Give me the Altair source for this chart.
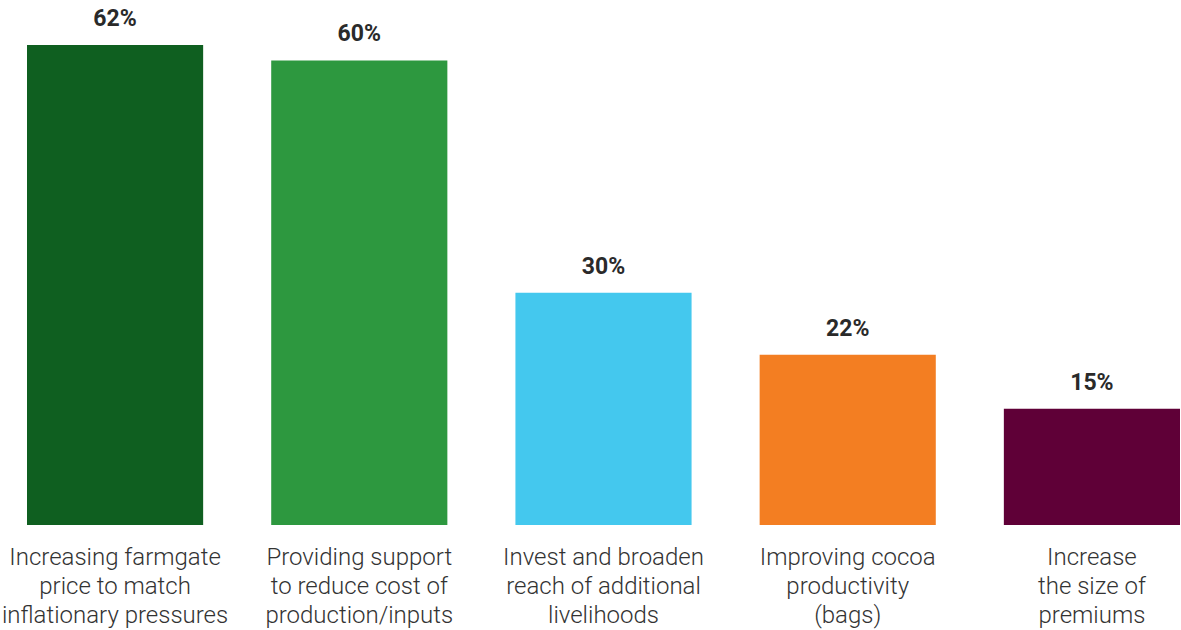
import altair as alt
import pandas as pd

categories = [
    "Increasing farmgate|price to match|inflationary pressures",
    "Providing support|to reduce cost of|production/inputs",
    "Invest and broaden|reach of additional|livelihoods",
    "Improving cocoa|productivity|(bags)",
    "Increase|the size of|premiums",
]
values = [62, 60, 30, 22, 15]
labels = ["62%", "60%", "30%", "22%", "15%"]
colors = ["#0f5f20", "#2d983f", "#44c8ee", "#f37e22", "#5f0037"]

df = pd.DataFrame({"cat": categories, "value": values, "label": labels, "color": colors})

x = alt.X(
    "cat:N",
    sort=categories,
    scale=alt.Scale(paddingInner=0.2787, paddingOuter=0),
    axis=alt.Axis(
        title=None,
        labelAngle=0,
        labelExpr="split(datum.label, '|')",
        labelFont="Roboto",
        labelFontWeight=300,
        labelFontSize=24,
        labelLineHeight=29,
        labelColor="#333333",
        labelPadding=20,
        labelBaseline="top",
        domain=False,
        ticks=False,
        grid=False,
        labelLimit=400,
    ),
)
y = alt.Y("value:Q", scale=alt.Scale(domain=[0, 62], nice=False), axis=None)

bars = alt.Chart(df).mark_bar().encode(
    x=x, y=y, color=alt.Color("color:N", scale=None)
)
text = alt.Chart(df).mark_text(
    font="Roboto", fontWeight="bold", fontSize=23, color="#2a2a2a",
    baseline="alphabetic", dy=-19, clip=False
).encode(x=alt.X("cat:N", sort=categories), y="value:Q", text="label:N")

chart = (bars + text).properties(
    width=1153, height=480,
    autosize=alt.AutoSizeParams(type="none"),
    padding={"left": 27, "top": 45, "right": 1, "bottom": 105},
    background="white",
).configure_view(stroke=None, strokeWidth=0)

chart.save("out.html", embed_options={"renderer": "svg", "actions": False})
